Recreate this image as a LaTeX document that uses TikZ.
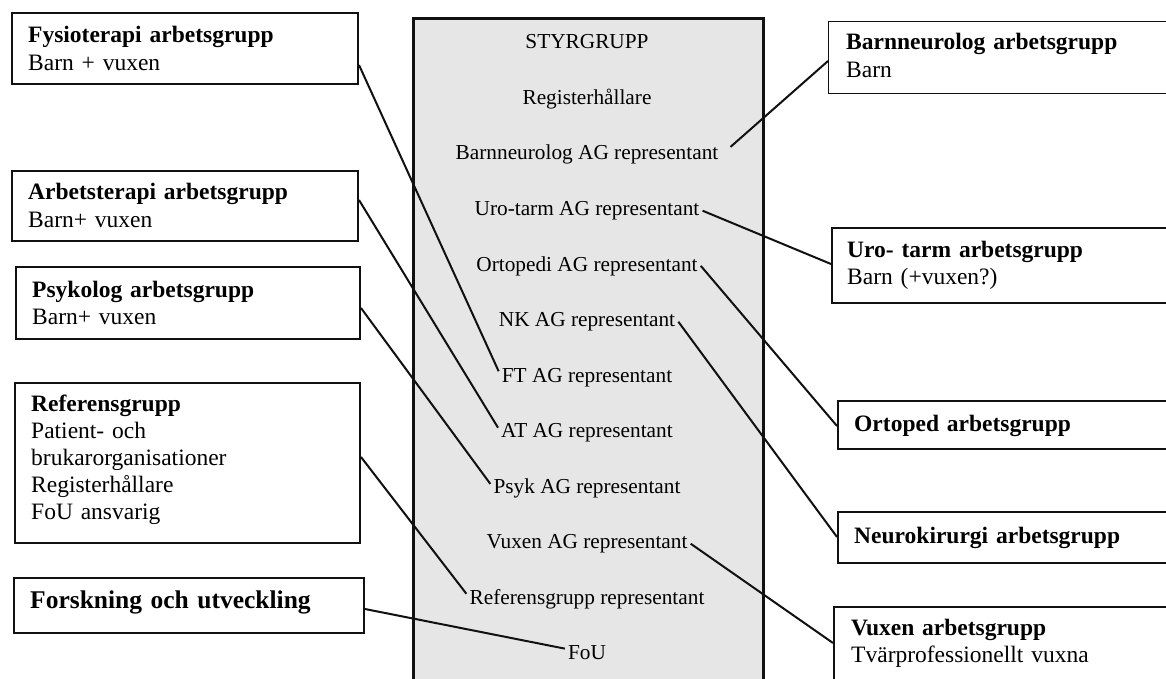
\documentclass[tikz,border=0pt]{standalone}
\usepackage{fontspec}
\setmainfont{Liberation Serif}
\definecolor{panel}{HTML}{E6E6E6}
\definecolor{ink}{HTML}{111111}
\begin{document}
\begin{tikzpicture}[x=1pt,y=-1pt,
  box/.style={draw=ink,line width=2pt,inner sep=0pt,anchor=north west},
  txt/.style={anchor=base west,inner sep=0pt,text width=330pt,align=left,
    font=\fontsize{23.5}{27.2}\selectfont},
  rep/.style={anchor=base,inner sep=3pt,font=\fontsize{21.3}{25}\selectfont},
  link/.style={line width=2pt,draw=ink}]
\useasboundingbox (0,0) rectangle (1166,679);
\clip (0,0) rectangle (1166,679);
\fill[white] (0,0) rectangle (1166,679);

% central steering group panel
\node[box,line width=3pt,fill=panel,minimum width=350pt,minimum height=720pt] (sty) at (412,17) {};
\node[rep] (styr) at (587,49) {STYRGRUPP};
\node[rep] (reg)  at (587,104.5) {Registerhållare};
\node[rep] (bn)   at (587,160) {Barnneurolog AG representant};
\node[rep] (uro)  at (587,215.5) {Uro-tarm AG representant};
\node[rep] (orto) at (587,271) {Ortopedi AG representant};
\node[rep] (nk)   at (587,326.5) {NK AG representant};
\node[rep] (ft)   at (587,382) {FT AG representant};
\node[rep] (at)   at (587,437.5) {AT AG representant};
\node[rep] (psyk) at (587,493) {Psyk AG representant};
\node[rep] (vux)  at (587,548.5) {Vuxen AG representant};
\node[rep] (ref)  at (587,604) {Referensgrupp representant};
\node[rep] (fou)  at (587,659.5) {FoU};

% left boxes
\node[box,minimum width=346pt,minimum height=71pt] (fysb) at (11,12) {};
\node[txt] (fyst) at (28,43) {\textbf{Fysioterapi arbetsgrupp}\\Barn + vuxen};
\node[box,minimum width=346pt,minimum height=70pt] (arbb) at (11,170) {};
\node[txt] (arbt) at (28,200) {\textbf{Arbetsterapi arbetsgrupp}\\Barn+ vuxen};
\node[box,minimum width=344pt,minimum height=72pt] (psyb) at (15,266) {};
\node[txt] (psyt) at (32,297) {\textbf{Psykolog arbetsgrupp}\\Barn+ vuxen};
\node[box,minimum width=345pt,minimum height=160pt] (refb) at (14,382) {};
\node[txt] (reft) at (31,411) {\textbf{Referensgrupp}\\Patient- och\\brukarorganisationer\\Registerhållare\\FoU ansvarig};
\node[box,minimum width=350pt,minimum height=55pt] (forb) at (13,577) {};
\node[txt,font=\fontsize{25.5}{30}\selectfont\bfseries] (fort) at (30,608) {Forskning och utveckling};

% right boxes
\node[box,line width=1.4pt,minimum width=360pt,minimum height=72pt] (bnb) at (828,21) {};
\node[txt] (bnt) at (846,50) {\textbf{Barnneurolog arbetsgrupp}\\Barn};
\node[box,minimum width=360pt,minimum height=75pt] (urob) at (831,227) {};
\node[txt] (urot) at (847,257) {\textbf{Uro- tarm arbetsgrupp}\\Barn (+vuxen?)};
\node[box,minimum width=360pt,minimum height=48pt] (ortb) at (837,400) {};
\node[txt] (ortt) at (854,431) {\textbf{Ortoped arbetsgrupp}};
\node[box,minimum width=360pt,minimum height=51pt] (nkb) at (837,511) {};
\node[txt] (nkt) at (854,543) {\textbf{Neurokirurgi arbetsgrupp}};
\node[box,minimum width=360pt,minimum height=100pt] (vuxb) at (833,606) {};
\node[txt] (vuxt) at (851,635) {\textbf{Vuxen arbetsgrupp}\\Tvärprofessionellt vuxna};

% connectors left
\draw[link] ([yshift=-53pt]fysb.north east) -- ([yshift=6pt]ft.west);
\draw[link] ([yshift=-30pt]arbb.north east) -- ([yshift=5pt]at.west);
\draw[link] ([yshift=-42pt]psyb.north east) -- ([yshift=4pt]psyk.west);
\draw[link] ([yshift=-75pt]refb.north east) -- ([yshift=5pt]ref.west);
\draw[link] ([yshift=-32pt]forb.north east) -- ([yshift=4pt]fou.west);
% connectors right
\draw[link] ([xshift=9pt,yshift=8pt]bn.east) -- ([yshift=-40pt]bnb.north west);
\draw[link] (uro.east) -- ([yshift=-37pt]urob.north west);
\draw[link] (orto.east) -- ([yshift=-26pt]ortb.north west);
\draw[link] (nk.east) -- ([yshift=-26pt]nkb.north west);
\draw[link] (vux.east) -- ([yshift=-37pt]vuxb.north west);
\end{tikzpicture}
\end{document}
